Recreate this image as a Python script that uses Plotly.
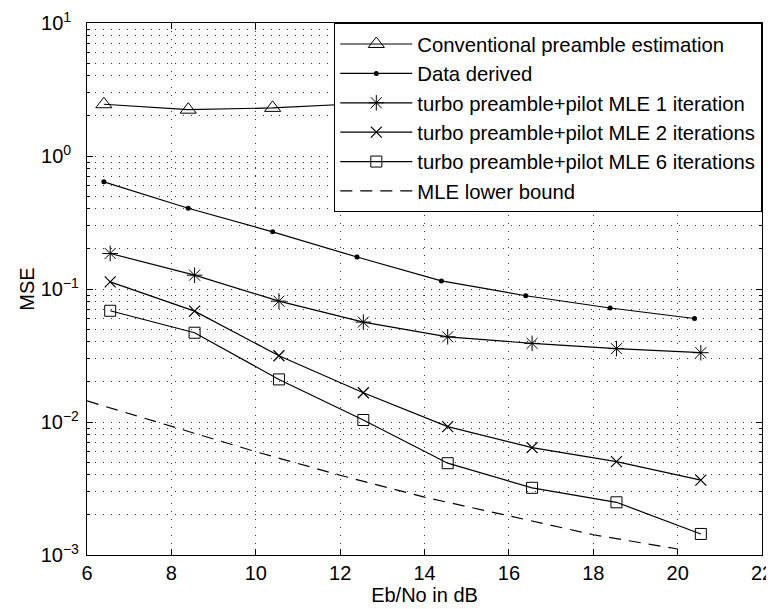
import plotly.graph_objects as go

# ---------------- data ----------------
x_conv = [6.4, 8.4, 10.4, 12.4, 14.4, 16.4, 18.4, 20.4]
mse_conv = [2.45, 2.23, 2.30, 2.47, 2.5, 2.5, 2.5, 2.5]

x_data = [6.4, 8.4, 10.4, 12.4, 14.4, 16.4, 18.4, 20.4]
mse_data = [0.639, 0.405, 0.269, 0.174, 0.115, 0.089, 0.072, 0.060]

x_turbo = [6.55, 8.55, 10.55, 12.55, 14.55, 16.55, 18.55, 20.55]
mse_it1 = [0.185, 0.127, 0.081, 0.0564, 0.0437, 0.039, 0.0356, 0.0332]
mse_it2 = [0.113, 0.0682, 0.0315, 0.0166, 0.00923, 0.00641, 0.00503, 0.00366]
mse_it6 = [0.0686, 0.0469, 0.0209, 0.01035, 0.0049, 0.0032, 0.00249, 0.00144]

x_bound = [6, 8, 10, 12, 14, 16, 18, 20]
mse_bound = [0.0144, 0.00933, 0.00598, 0.00398, 0.00272, 0.00197, 0.00142, 0.00111]

x_ticks = [6, 8, 10, 12, 14, 16, 18, 20, 22]
y_ticks = [1e-3, 1e-2, 1e-1, 1e0, 1e1]
# figure-space padding keeps the "10" bases left-aligned like the original
y_ticktext = ["10<sup>\u22123</sup>", "10<sup>\u22122</sup>", "10<sup>\u22121</sup>",
              "10<sup>0\u2007</sup>", "10<sup>1\u2007</sup>"]
y_minor = [m * 10 ** e for e in range(-3, 1) for m in range(2, 10)]

FONT = "Liberation Sans, Arial, Helvetica, sans-serif"
LW = 1.2
GRID = "#333333"
GDASH = "1px,7px"

fig = go.Figure()

fig.add_trace(go.Scatter(
    x=x_conv, y=mse_conv, mode="lines+markers",
    name="Conventional preamble estimation",
    line=dict(color="black", width=LW),
    marker=dict(symbol="triangle-up-open", size=14, color="black",
                line=dict(color="black", width=1))))

fig.add_trace(go.Scatter(
    x=x_data, y=mse_data, mode="lines+markers",
    name="Data derived",
    line=dict(color="black", width=LW),
    marker=dict(symbol="circle", size=5, color="black")))

fig.add_trace(go.Scatter(
    x=x_turbo, y=mse_it1, mode="lines+markers",
    name="turbo preamble+pilot MLE 1 iteration",
    line=dict(color="black", width=LW),
    marker=dict(symbol="asterisk-open", size=13, color="black",
                line=dict(color="black", width=1))))

fig.add_trace(go.Scatter(
    x=x_turbo, y=mse_it2, mode="lines+markers",
    name="turbo preamble+pilot MLE 2 iterations",
    line=dict(color="black", width=LW),
    marker=dict(symbol="x-thin-open", size=11, color="black",
                line=dict(color="black", width=1.2))))

fig.add_trace(go.Scatter(
    x=x_turbo, y=mse_it6, mode="lines+markers",
    name="turbo preamble+pilot MLE 6 iterations",
    line=dict(color="black", width=LW),
    marker=dict(symbol="square-open", size=11, color="black",
                line=dict(color="black", width=1))))

fig.add_trace(go.Scatter(
    x=x_bound, y=mse_bound, mode="lines",
    name="MLE lower bound",
    line=dict(color="black", width=LW, dash="12px,8px")))

# the page body adds an 8px offset, so the figure is 8px smaller than the window
fig.update_layout(
    width=766, height=601,
    margin=dict(l=79, r=12, t=15, b=54, autoexpand=False),
    paper_bgcolor="white", plot_bgcolor="white",
    font=dict(family=FONT, size=20, color="black"),
    showlegend=True,
    legend=dict(
        x=1, xanchor="right", y=1, yanchor="top",
        bgcolor="white", bordercolor="black", borderwidth=1.3,
        font=dict(family=FONT, size=20.3, color="black"),
        itemwidth=72,
        tracegroupgap=0,
    ),
)

fig.update_xaxes(
    range=[6, 22], tickvals=x_ticks,
    ticks="inside", ticklen=6, tickwidth=1, tickcolor="black",
    showline=True, linecolor="black", linewidth=1.3, mirror="ticks",
    showgrid=True, gridcolor=GRID, gridwidth=1, griddash=GDASH,
    zeroline=False, automargin=False,
    tickfont=dict(family=FONT, size=20, color="black"),
    title=dict(text="Eb/No in dB", font=dict(family=FONT, size=20), standoff=2),
)

fig.update_yaxes(
    type="log", range=[-3, 1],
    tickvals=y_ticks, ticktext=y_ticktext,
    ticks="inside", ticklen=6, tickwidth=1, tickcolor="black",
    showline=True, linecolor="black", linewidth=1.3, mirror="ticks",
    showgrid=True, gridcolor=GRID, gridwidth=1, griddash=GDASH,
    zeroline=False, automargin=False, ticklabelstandoff=3,
    minor=dict(tickvals=y_minor, ticks="inside", ticklen=3, tickcolor="black",
               showgrid=True, gridcolor=GRID, gridwidth=1, griddash=GDASH),
    tickfont=dict(family=FONT, size=20, color="black"),
    title=dict(text="MSE", font=dict(family=FONT, size=20), standoff=0),
)

fig.write_html("out.html")
